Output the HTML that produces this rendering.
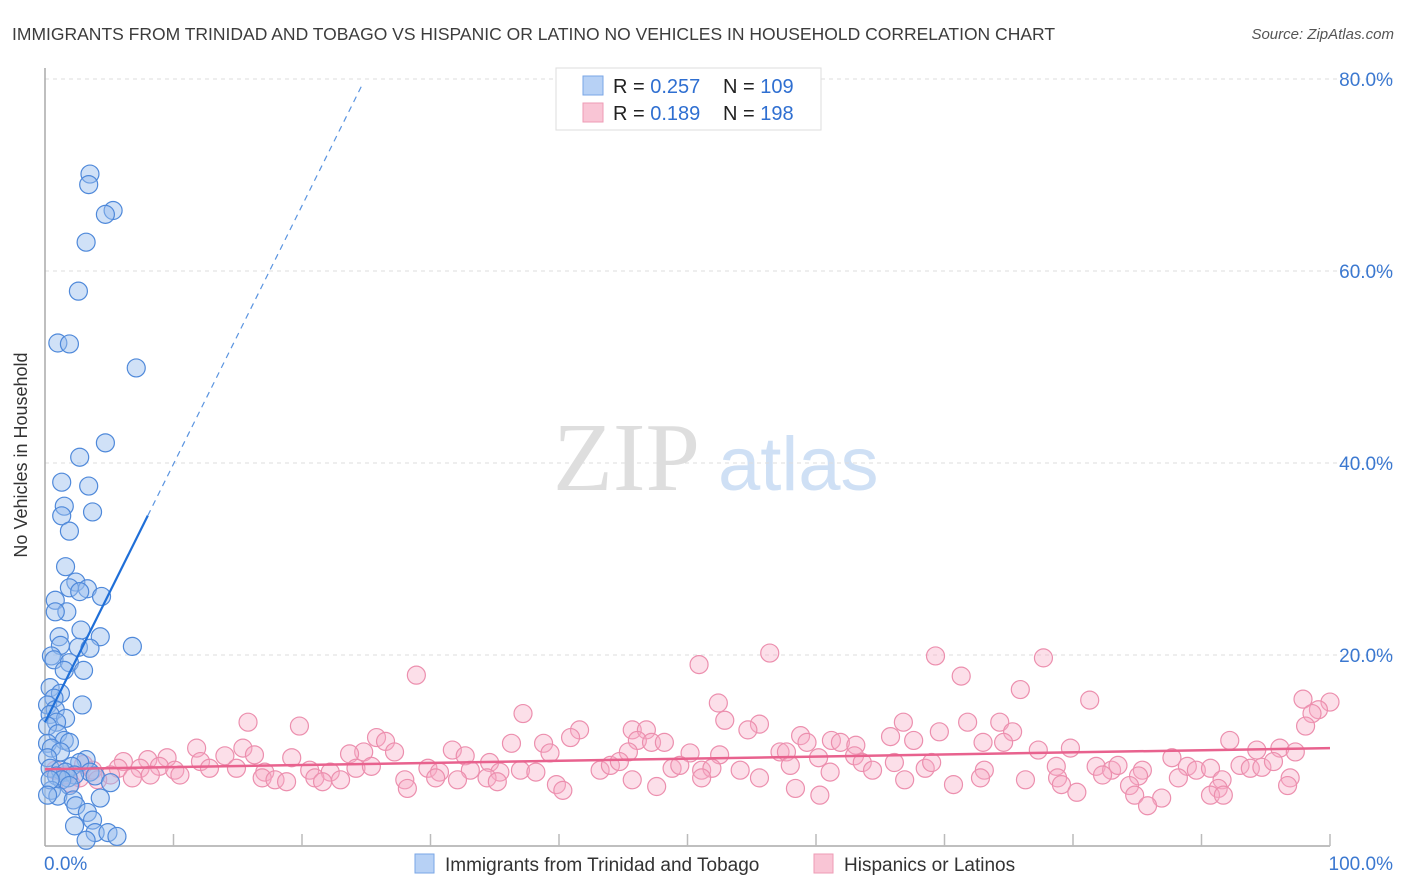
<!DOCTYPE html>
<html><head><meta charset="utf-8"><style>
body{margin:0;background:#fff;font-family:"Liberation Sans",sans-serif}
svg{display:block}
</style></head><body>
<svg id="c" width="1406" height="892" xmlns="http://www.w3.org/2000/svg">
<text x="12" y="40" font-size="17.5" fill="#3c3c3c">IMMIGRANTS FROM TRINIDAD AND TOBAGO VS HISPANIC OR LATINO NO VEHICLES IN HOUSEHOLD CORRELATION CHART</text>
<text x="1394" y="39" font-size="15" fill="#555" font-style="italic" text-anchor="end">Source: ZipAtlas.com</text>
<g><text x="553" y="490" font-family="Liberation Serif,serif" font-size="98" fill="#dedede">ZIP</text><text x="718" y="490" font-size="76" fill="#cfe0f5">atlas</text></g>
<g id="grid"></g><g id="axes"></g><g id="pts"></g><g id="lines"></g>
<g>
<rect x="556" y="68" width="265" height="62" fill="#fff" stroke="#ddd"/>
<rect x="583" y="76" width="20" height="19" fill="#b7d1f5" stroke="#7aa6e6"/>
<rect x="583" y="103" width="20" height="19" fill="#f9c5d5" stroke="#ee9bb5"/>
<text x="613" y="93" font-size="20" fill="#222">R = <tspan fill="#2f6fd1">0.257</tspan></text>
<text x="723" y="93" font-size="20" fill="#222">N = <tspan fill="#2f6fd1">109</tspan></text>
<text x="613" y="120" font-size="20" fill="#222">R = <tspan fill="#2f6fd1"> 0.189</tspan></text>
<text x="723" y="120" font-size="20" fill="#222">N = <tspan fill="#2f6fd1">198</tspan></text>
</g>
<g>
<rect x="415" y="854" width="19" height="19" fill="#b7d1f5" stroke="#7aa6e6"/>
<text x="445" y="871" font-size="19" fill="#333">Immigrants from Trinidad and Tobago</text>
<rect x="814" y="854" width="19" height="19" fill="#f9c5d5" stroke="#ee9bb5"/>
<text x="844" y="871" font-size="19" fill="#333">Hispanics or Latinos</text>
</g>
<text x="27" y="455" font-size="18" fill="#333" text-anchor="middle" transform="rotate(-90 27 455)">No Vehicles in Household</text>
</svg>
<script>
const yTicks=[20,40,60,80];
const yTickLabels=["20.0%","40.0%","60.0%","80.0%"];
const xTickLabels=["0.0%","100.0%"];
const blueX=[3.5,3.4,5.3,4.7,3.2,2.6,1.0,1.9,7.1,4.7,2.7,1.3,3.4,1.5,1.3,3.7,1.9,1.6,2.4,1.9,3.3,2.7,4.4,0.8,1.7,0.8,2.8,1.1,4.3,1.2,6.8,2.6,3.5,0.5,0.7,1.9,1.5,3.0,0.4,1.2,0.7,0.2,2.9,0.8,0.4,1.6,0.9,0.2,1.0,1.5,0.2,1.9,0.5,1.2,0.2,3.2,2.7,2.1,0.4,1.2,1.6,3.5,2.3,0.9,1.8,3.9,1.3,5.1,1.9,0.5,1.0,2.2,4.3,2.4,3.3,3.7,2.3,3.9,4.9,5.6,3.2,0.4,0.2];
const blueY=[70.1,69.0,66.3,65.9,63.0,57.9,52.5,52.4,49.9,42.1,40.6,38.0,37.6,35.5,34.5,34.9,32.9,29.2,27.6,27.0,26.9,26.6,26.1,25.7,24.5,24.5,22.6,21.9,21.9,21.0,20.9,20.8,20.7,19.9,19.5,19.2,18.4,18.4,16.6,16.0,15.5,14.8,14.8,14.3,13.8,13.4,13.0,12.6,11.8,11.1,10.8,10.9,10.3,9.9,9.3,9.1,8.8,8.4,8.2,8.0,7.8,7.8,7.5,7.4,7.2,7.4,7.0,6.7,6.4,5.9,5.3,4.9,5.1,4.3,3.6,2.8,2.2,1.5,1.5,1.1,0.7,7.0,5.4];
const pinkX=[28.9,50.9,56.4,69.3,77.7,71.3,75.9,52.4,81.3,97.9,100,37.2,99.1,98.6,15.8,19.8,52.9,55.6,66.8,71.8,74.3,98.1,41.6,45.7,46.8,54.7,69.6,75.3,92.2,58.8,61.2,65.8,25.8,26.5,38.8,40.9,46.1,47.2,48.2,59.3,61.9,63.1,67.6,73.0,74.6,79.8,94.3,96.1,11.8,15.4,31.7,36.3,24.8,27.2,23.7,32.7,39.3,45.4,50.2,52.5,57.2,57.7,60.2,63.0,77.3,87.7,97.3,14.0,16.3,19.2,9.5,8.0,6.1,5.7,7.4,8.9,10.1,12.1,12.8,14.9,17.1,20.6,22.2,24.2,25.4,29.8,30.7,33.1,34.6,35.4,37.0,38.2,43.2,44.0,44.7,48.8,49.4,51.1,51.9,54.1,58.0,61.1,63.6,64.4,66.1,68.5,69.0,73.1,78.7,81.8,83.0,83.5,85.4,88.9,89.6,90.7,93.0,93.8,94.7,95.6,5.1,6.8,8.2,10.5,16.9,17.9,18.8,21.0,21.6,23.0,28.0,30.4,32.1,34.4,35.2,45.7,51.1,55.6,66.9,72.8,76.3,78.8,82.3,85.1,88.2,91.6,96.9,28.2,39.8,47.6,58.4,70.7,79.1,84.4,91.3,96.7,40.3,80.3,60.3,84.8,86.9,90.7,91.7,85.8,0.8,1.6,2.7,3.7,4.1,2.0,3.0];
const pinkY=[17.9,19.0,20.2,19.9,19.7,17.8,16.4,15.0,15.3,15.4,15.1,13.9,14.3,13.9,13.0,12.6,13.2,12.8,13.0,13.0,13.0,12.6,12.2,12.2,12.2,12.2,12.0,12.0,11.1,11.6,11.1,11.5,11.4,11.0,10.8,11.4,11.1,10.9,10.9,10.9,10.9,10.6,11.1,10.9,10.9,10.3,10.1,10.3,10.3,10.3,10.1,10.8,9.9,9.9,9.7,9.5,9.8,9.9,9.8,9.6,9.9,9.9,9.3,9.5,10.1,9.3,9.9,9.5,9.6,9.3,9.3,9.1,8.9,8.2,8.2,8.4,8.0,8.9,8.2,8.2,7.8,8.0,7.8,8.2,8.4,8.2,7.8,8.0,8.8,7.8,8.0,7.8,8.0,8.5,8.9,8.2,8.5,8.0,8.2,8.0,8.5,7.8,8.8,8.0,8.8,8.2,8.8,8.0,8.4,8.4,8.0,8.5,8.0,8.4,8.0,8.2,8.5,8.2,8.3,8.9,7.5,7.2,7.5,7.5,7.2,7.0,6.8,7.2,6.8,7.0,7.0,7.2,7.0,7.2,6.8,7.0,7.2,7.2,7.0,7.2,7.0,7.2,7.5,7.4,7.2,7.0,7.2,6.1,6.5,6.3,6.1,6.5,6.5,6.4,6.1,6.4,5.9,5.7,5.4,5.4,5.1,5.4,5.4,4.3,8.0,7.5,7.2,8.0,7.0,6.6,8.6];
const blueTrend=[13.0,2.69]; // intercept, slope
const pinkTrend=[8.1,0.022];
const X0=45,X1=1330,Y0=847,YS=9.6;
const sx=v=>X0+v*(X1-X0)/100, sy=v=>Y0-v*YS;
const NS="http://www.w3.org/2000/svg";
function mk(tag,attrs,parent){const e=document.createElementNS(NS,tag);for(const k in attrs)e.setAttribute(k,attrs[k]);document.getElementById(parent).appendChild(e);return e;}
yTicks.forEach((t,i)=>{
 const g=mk('line',{x1:X0,x2:1394,y1:sy(t),y2:sy(t),stroke:'#ddd','stroke-dasharray':'4,4'},'grid');
 
 
 const l=mk('text',{x:1393,y:sy(t)+7,'font-size':19,fill:'#3b78d0','text-anchor':'end'},'axes');
 l.textContent=yTickLabels[i];
 
 
});
const xa=mk('line',{x1:X0,x2:X1,y1:846,y2:846,stroke:'#aaa','stroke-width':1.5},'axes');


const ya=mk('line',{x1:X0,x2:X0,y1:68,y2:846,stroke:'#aaa','stroke-width':1.5},'axes');


for(let i=1;i<=10;i++){const t=mk('line',{x1:sx(i*10),x2:sx(i*10),y1:834,y2:846,stroke:'#bbb','stroke-width':1.5},'axes');
 
 }
[[0,'start',44],[100,'end',1393]].forEach((d,i)=>{const l=mk('text',{x:d[2],y:870,'font-size':19,fill:'#3b78d0','text-anchor':d[1]},'axes');l.textContent=xTickLabels[i];
 
 });
pinkX.forEach((x,i)=>{const c=mk('circle',{cx:sx(x),cy:sy(pinkY[i]),r:9,fill:'rgba(246,170,196,0.38)',stroke:'#ec8fae','stroke-width':1.2},'pts');
 
 });
blueX.forEach((x,i)=>{const c=mk('circle',{cx:sx(x),cy:sy(blueY[i]),r:9,fill:'rgba(150,188,238,0.45)',stroke:'#4f89da','stroke-width':1.2},'pts');
 
 });
const bt=x=>blueTrend[0]+blueTrend[1]*x;
const b1=mk('line',{x1:sx(0),y1:sy(bt(0)),x2:sx(8),y2:sy(bt(8)),stroke:'#1f6fd8','stroke-width':2.2},'lines');


const b2=mk('line',{x1:sx(8),y1:sy(bt(8)),x2:sx(24.7),y2:sy(bt(24.7)),stroke:'#5a94e0','stroke-width':1.2,'stroke-dasharray':'6,5'},'lines');


const pt=x=>pinkTrend[0]+pinkTrend[1]*x;
const p1=mk('line',{x1:sx(0),y1:sy(pt(0)),x2:sx(100),y2:sy(pt(100)),stroke:'#e8628e','stroke-width':2.5},'lines');


</script>
</body></html>
